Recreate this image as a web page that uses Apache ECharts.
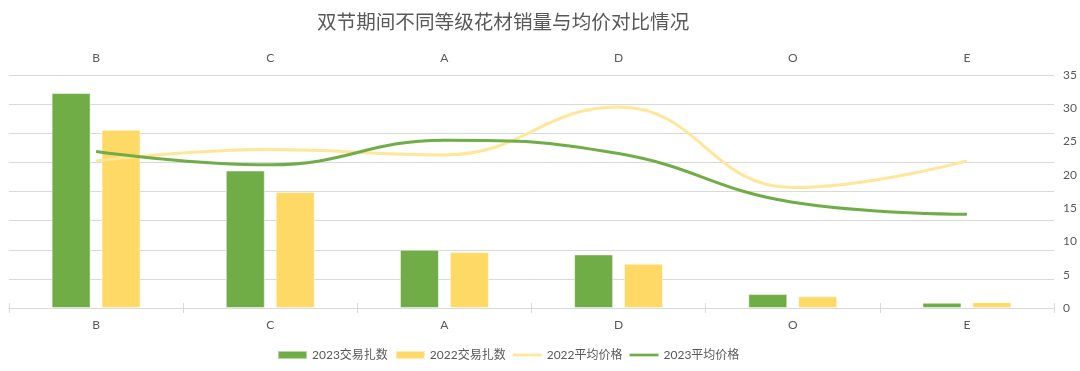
<!DOCTYPE html>
<html>
<head>
<meta charset="utf-8">
<script src="https://cdn.jsdelivr.net/npm/echarts@6/dist/echarts.min.js"></script>
<style>html,body{margin:0;padding:0;background:#fff;}#c{width:1080px;height:371px;}</style>
</head>
<body>
<div id="c"></div>
<script>
const categories = ['B', 'C', 'A', 'D', 'O', 'E'];
const volume2023 = [36.9, 23.6, 10.0, 9.2, 2.4, 0.9];
const volume2022 = [30.6, 19.9, 9.6, 7.6, 2.0, 1.0];
const price2022 = [22.1, 23.8, 23.0, 30.2, 18.1, 22.1];
const price2023 = [23.5, 21.5, 25.2, 23.2, 15.9, 14.1];
const rightTicks = [0, 5, 10, 15, 20, 25, 30, 35];

const FONT = "Lato, 'Noto Sans CJK SC', sans-serif";
const TXT = '#595959';
const GRIDC = '#D9D9D9';
const GREEN = '#70AD47';
const YELLOW = '#FFD966';
const YLINE = '#FFE699';
const LINE_ICON = 'path://M0,0H32V3H0Z';

const chart = echarts.init(document.getElementById('c'), null, {renderer: 'canvas'});
chart.setOption({
  animation: false,
  textStyle: {fontFamily: FONT, color: TXT},
  title: {
    text: '双节期间不同等级花材销量与均价对比情况',
    left: 312, top: 8,
    textStyle: {fontFamily: FONT, fontSize: 19.6, fontWeight: 'normal', color: TXT}
  },
  legend: {
    bottom: 5, left: 272,
    itemWidth: 29, itemHeight: 8, itemGap: 7,
    textStyle: {fontFamily: FONT, fontSize: 12, color: TXT},
    data: [
      {name: '2023交易扎数', icon: 'rect'},
      {name: '2022交易扎数', icon: 'rect'},
      {name: '2022平均价格', icon: LINE_ICON, itemStyle: {color: YLINE}},
      {name: '2023平均价格', icon: LINE_ICON, itemStyle: {color: GREEN}}
    ]
  },
  grid: {left: 9, right: 26, top: 75, bottom: 63, containLabel: false},
  xAxis: [
    {
      type: 'category', data: categories, position: 'bottom',
      axisLine: {lineStyle: {color: GRIDC}},
      axisTick: {show: true, length: 5, lineStyle: {color: GRIDC}},
      axisLabel: {fontSize: 12, color: TXT, margin: 11, fontFamily: FONT}
    },
    {
      type: 'category', data: categories, position: 'top',
      axisLine: {lineStyle: {color: GRIDC}},
      axisTick: {show: true, length: 5, lineStyle: {color: GRIDC}},
      axisLabel: {fontSize: 12, color: TXT, margin: 11, fontFamily: FONT}
    }
  ],
  yAxis: [
    {
      type: 'value', min: 0, max: 40, interval: 5, position: 'left',
      axisLabel: {show: false}, axisLine: {show: false}, axisTick: {show: false},
      splitLine: {lineStyle: {color: GRIDC}}
    },
    {
      type: 'value', min: rightTicks[0], max: rightTicks[rightTicks.length - 1], interval: 5, position: 'right',
      axisLabel: {fontSize: 12, color: TXT, margin: 9, fontFamily: FONT},
      axisLine: {show: false}, axisTick: {show: false}, splitLine: {show: false}
    }
  ],
  series: [
    {
      name: '2023交易扎数', type: 'bar', data: volume2023, yAxisIndex: 0, xAxisIndex: 0,
      barWidth: 39, barGap: '28%',
      itemStyle: {color: GREEN, borderColor: 'rgba(255,255,255,0.5)', borderWidth: 1}
    },
    {
      name: '2022交易扎数', type: 'bar', data: volume2022, yAxisIndex: 0, xAxisIndex: 0,
      barWidth: 39,
      itemStyle: {color: YELLOW, borderColor: 'rgba(255,255,255,0.5)', borderWidth: 1}
    },
    {
      name: '2022平均价格', type: 'line', data: price2022, yAxisIndex: 1, xAxisIndex: 0,
      smooth: 0.45, symbol: 'none', lineStyle: {color: YLINE, width: 3}, itemStyle: {color: YLINE}
    },
    {
      name: '2023平均价格', type: 'line', data: price2023, yAxisIndex: 1, xAxisIndex: 0,
      smooth: 0.45, symbol: 'none', lineStyle: {color: GREEN, width: 3}, itemStyle: {color: GREEN}
    }
  ]
});
</script>
</body>
</html>
